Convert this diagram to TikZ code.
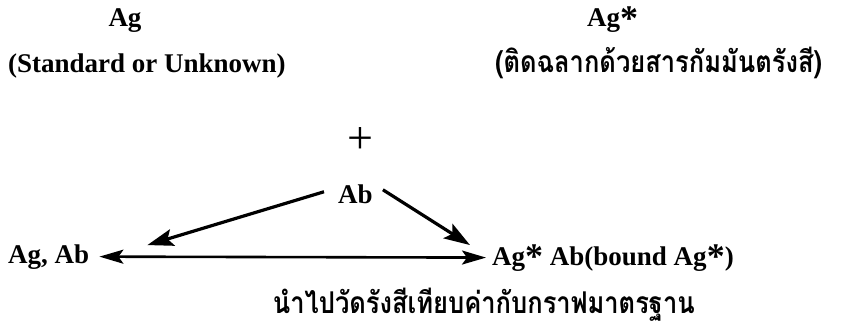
\documentclass[tikz,border=0pt]{standalone}
\usepackage{fontspec}
\setmainfont{Liberation Serif}
\newfontfamily\thaifont[Script=Thai, FakeStretch=0.85]{Loma}
\usepackage{tikz}
\usetikzlibrary{arrows.meta,positioning,calc}

\newcommand{\lblstar}{\raisebox{-3pt}{\fontsize{36}{36}\selectfont *}}

\begin{document}
\begin{tikzpicture}[
  x=1pt, y=-1pt,
  lbl/.style={inner sep=2pt, font=\fontsize{27}{30}\selectfont\bfseries},
  thlbl/.style={inner sep=2pt, font=\fontsize{30}{34}\selectfont\thaifont\bfseries},
  arr/.style={draw, line width=3.2pt, -{Stealth[length=26pt,width=17pt,inset=5pt]}},
  harr/.style={draw, line width=2.6pt,
               {Stealth[length=24pt,width=14pt,inset=5pt]}-{Stealth[length=24pt,width=14pt,inset=5pt]}}
]
\useasboundingbox (0,0) rectangle (841,332);

\node[lbl, anchor=base] (agstd) at (125,27) {Ag};
\node[lbl, anchor=base west] (agstdlbl) at (6,72) {(Standard or Unknown)};
\node[lbl, anchor=base west] (aglab) at (585,27) {Ag\lblstar};
\node[thlbl, anchor=base west] (aglablbl) at (493,72) {(ติดฉลากด้วยสารกัมมันตรังสี)};

\node[inner sep=0pt, font=\fontsize{46}{46}\selectfont] (plus) at (360,141) {+};
\node[lbl, anchor=base west] (ab) at (336,203) {Ab};

\node[lbl, anchor=base west] (free) at (6,263) {Ag, Ab};
\node[lbl, anchor=base west] (bound) at (490,265) {Ag\lblstar{} Ab(bound Ag\lblstar)};
\node[thlbl, anchor=base east] (measure) at (697,313) {นำไปวัดรังสีเทียบค่ากับกราฟมาตรฐาน};

\coordinate (freetip) at ($(free.north east)+(56,3)$);
\coordinate (boundtip) at ($(bound.north west)+(-20,3)$);

\draw[arr] ($(ab.west)+(-12,-2)$) -- (freetip);
\draw[arr] ($(ab.east)+(8,-4)$) -- (boundtip);
\draw[harr, shorten <=8pt, shorten >=4pt] (free.east) -- (bound.west);
\end{tikzpicture}
\end{document}
